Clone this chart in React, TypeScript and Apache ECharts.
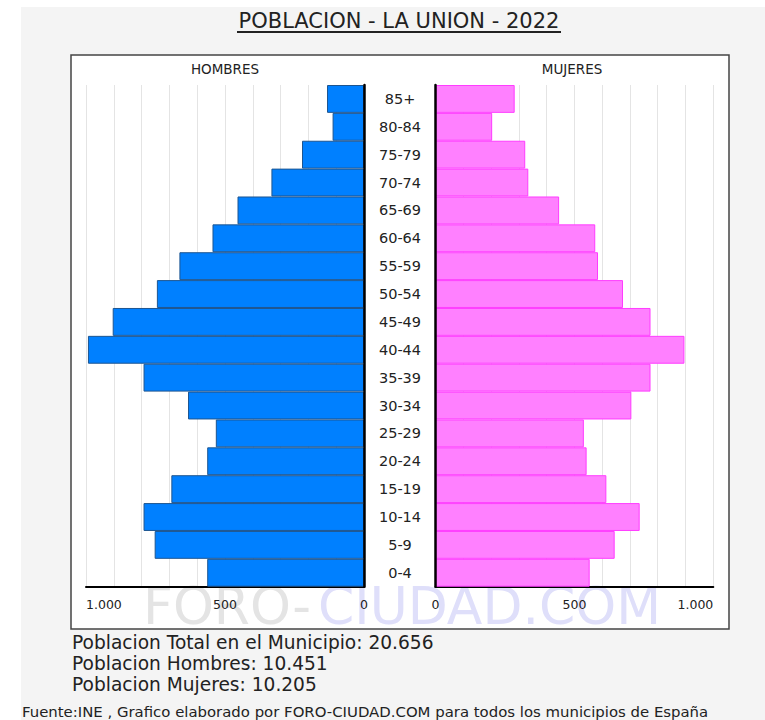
import React, { useEffect, useRef } from "react";
import * as echarts from "echarts";

const categories = ["0-4", "5-9", "10-14", "15-19", "20-24", "25-29", "30-34", "35-39", "40-44", "45-49", "50-54", "55-59", "60-64", "65-69", "70-74", "75-79", "80-84", "85+"];
const hombres = [564, 753, 793, 693, 564, 533, 633, 793, 993, 904, 745, 664, 545, 455, 333, 223, 113, 133];
const mujeres = [555, 645, 735, 615, 544, 534, 705, 774, 896, 774, 675, 585, 575, 445, 334, 323, 204, 285];
const shownTicks = [0, 500, 1000];
const titleText = "POBLACION - LA UNION - 2022";
const panelTitles = ["HOMBRES", "MUJERES"];
const statLines = [
  "Poblacion Total en el Municipio: 20.656",
  "Poblacion Hombres: 10.451",
  "Poblacion Mujeres: 10.205",
];
const footerText = "Fuente:INE , Grafico elaborado por FORO-CIUDAD.COM para todos los municipios de España";
const watermarkParts = ["FORO-", "CIUDAD.COM"];

const FONT = "'DejaVu Sans', Verdana, sans-serif";

function fmt(v: number): string {
  if (!shownTicks.includes(v)) return "";
  return String(v).replace(/\B(?=(\d{3})+(?!\d))/g, ".");
}

export default function App() {
  const ref = useRef<HTMLDivElement>(null);
  useEffect(() => {
    if (!ref.current) return;
    const chart = echarts.init(ref.current, null, { renderer: "svg" });
    const axisLabel = {
      formatter: (v: number) => fmt(v),
      fontSize: 12.5,
      fontFamily: FONT,
      color: "#222",
      margin: 11,
      showMaxLabel: true,
      showMinLabel: true,
    };
    const xCommon = {
      type: "value",
      min: 0,
      max: 1000,
      interval: 100,
      axisLine: { show: true, onZero: false, lineStyle: { color: "#000", width: 2 } },
      axisTick: { show: false },
      splitLine: { show: true, lineStyle: { color: "#e4e4e4", width: 1 } },
    };
    const textStyle = (text: string, x: number, y: number, size: number, align = "left", fill = "#222") => ({
      type: "text",
      x,
      y,
      z: 10,
      style: {
        text,
        fill,
        fontSize: size,
        fontFamily: FONT,
        textAlign: align,
        textVerticalAlign: "middle",
      },
    });
    chart.setOption({
      animation: false,
      backgroundColor: "#f4f4f4",
      graphic: [
        { type: "rect", z: -20, shape: { x: 0, y: 0, width: 21, height: 720 }, style: { fill: "#ffffff" } },
        { type: "rect", z: -20, shape: { x: 0, y: 0, width: 765, height: 7 }, style: { fill: "#ffffff" } },
        { type: "rect", z: -15, shape: { x: 71, y: 55, width: 658, height: 574 }, style: { fill: "#ffffff", stroke: "#444", lineWidth: 1.5 } },
        {
          type: "text", x: 143, y: 606, z: -10,
          style: { text: watermarkParts[0], fill: "#e4e4e4", fontSize: 52, fontFamily: FONT, textVerticalAlign: "middle" },
        },
        {
          type: "text", x: 318, y: 606, z: -10,
          style: { text: watermarkParts[1], fill: "#dfdffa", fontSize: 52, fontFamily: FONT, textVerticalAlign: "middle" },
        },
        textStyle(titleText, 399, 21, 21, "center"),
        { type: "line", z: 10, shape: { x1: 237, y1: 32, x2: 561, y2: 32 }, style: { stroke: "#222", lineWidth: 2 } },
        textStyle(panelTitles[0], 225, 69, 13.5, "center"),
        textStyle(panelTitles[1], 572, 69, 13.5, "center"),
        textStyle(statLines[0], 72, 642, 18.6),
        textStyle(statLines[1], 72, 663, 18.6),
        textStyle(statLines[2], 72, 684, 18.6),
        textStyle(footerText, 22, 712, 14.9),
      ],
      grid: [
        { left: 86, right: 401, top: 85, bottom: 133.3, outerBoundsMode: "none" },
        { left: 435.5, right: 51.7, top: 85, bottom: 133.3, outerBoundsMode: "none" },
      ],
      xAxis: [
        { ...xCommon, gridIndex: 0, inverse: true, axisLabel: { ...axisLabel, alignMaxLabel: "left" } },
        { ...xCommon, gridIndex: 1, axisLabel: { ...axisLabel, alignMaxLabel: "right" } },
      ],
      yAxis: [
        {
          type: "category",
          gridIndex: 0,
          data: categories,
          position: "right",
          axisLine: { show: true, lineStyle: { color: "#000", width: 2.5 } },
          axisTick: { show: false },
          splitLine: { show: false },
          axisLabel: { align: "center", margin: 36, fontSize: 14.5, fontFamily: FONT, color: "#222" },
          z: 5,
        },
        {
          type: "category",
          gridIndex: 1,
          data: categories,
          position: "left",
          axisLine: { show: true, lineStyle: { color: "#000", width: 2.5 } },
          axisTick: { show: false },
          splitLine: { show: false },
          axisLabel: { show: false },
          z: 5,
        },
      ],
      series: [
        {
          type: "bar",
          name: "Hombres",
          xAxisIndex: 0,
          yAxisIndex: 0,
          data: hombres,
          barCategoryGap: "0%",
          itemStyle: { color: "#0080ff", borderColor: "#1d5590", borderWidth: 1 },
        },
        {
          type: "bar",
          name: "Mujeres",
          xAxisIndex: 1,
          yAxisIndex: 1,
          data: mujeres,
          barCategoryGap: "0%",
          itemStyle: { color: "#ff80ff", borderColor: "#ff3cff", borderWidth: 1 },
        },
      ],
    });
    return () => chart.dispose();
  }, []);
  return (
    <div
      ref={ref}
      style={{ position: "absolute", left: 0, top: 0, width: 765, height: 720 }}
    />
  );
}
